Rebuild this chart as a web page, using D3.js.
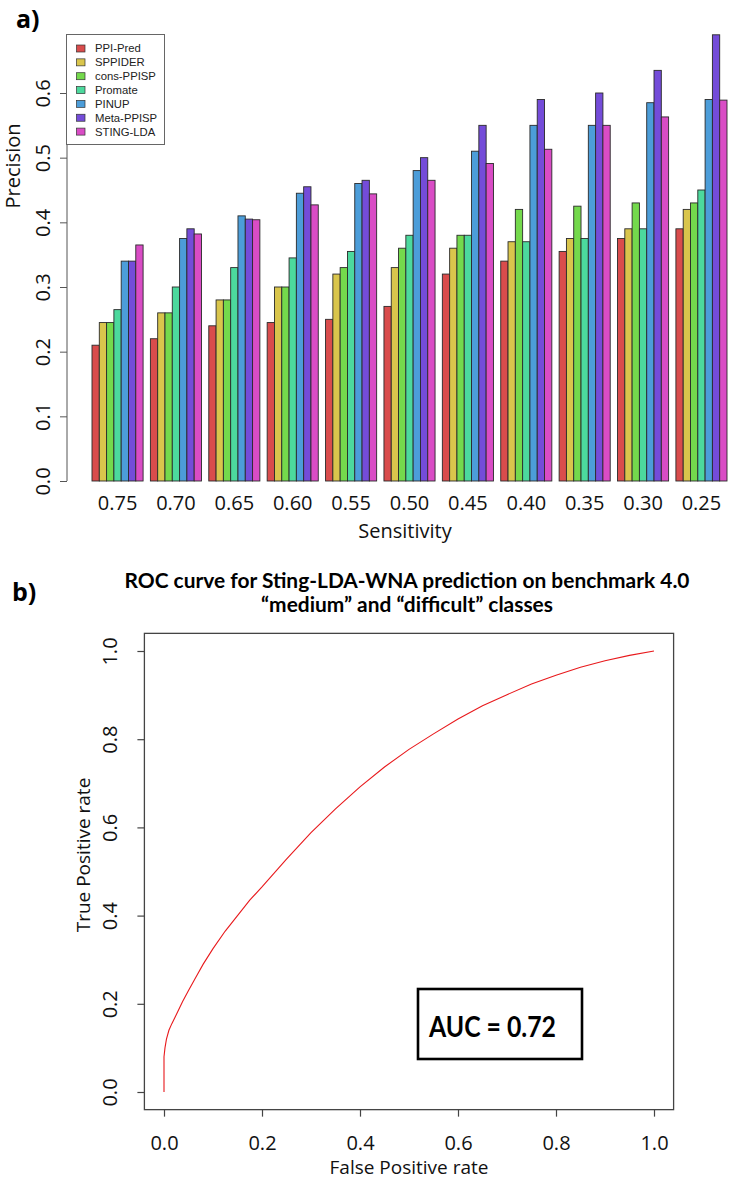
<!DOCTYPE html>
<html><head><meta charset="utf-8">
<script src="https://cdn.jsdelivr.net/npm/d3@7"></script>
<style>body{margin:0;background:#fff}svg{display:block}</style>
</head><body><svg id="c" width="734" height="1184"></svg>
<script>
// ---------- data: panel a ----------
const sensitivities = ["0.75","0.70","0.65","0.60","0.55","0.50","0.45","0.40","0.35","0.30","0.25"];
const methods = ["PPI-Pred","SPPIDER","cons-PPISP","Promate","PINUP","Meta-PPISP","STING-LDA"];
const ppiPred   = [0.210,0.220,0.240,0.245,0.250,0.270,0.320,0.340,0.355,0.375,0.390];
const sppider   = [0.245,0.260,0.280,0.300,0.320,0.330,0.360,0.370,0.375,0.390,0.420];
const consPpisp = [0.245,0.260,0.280,0.300,0.330,0.360,0.380,0.420,0.425,0.430,0.430];
const promate   = [0.265,0.300,0.330,0.345,0.355,0.380,0.380,0.370,0.375,0.390,0.450];
const pinup     = [0.340,0.375,0.410,0.445,0.460,0.480,0.510,0.550,0.550,0.585,0.590];
const metaPpisp = [0.340,0.390,0.405,0.455,0.465,0.500,0.550,0.590,0.600,0.635,0.690];
const stingLda  = [0.365,0.382,0.404,0.427,0.444,0.465,0.491,0.513,0.550,0.563,0.589];
const precisionTicks = [0.0,0.1,0.2,0.3,0.4,0.5,0.6];
const methodColors = ["#D94C4C","#D9C54C","#74D94C","#4CD99D","#4C9DD9","#744CD9","#D94CC5"];

// ---------- data: panel b ----------
const fpr = [0.000,0.000,0.002,0.005,0.010,0.016,0.025,0.038,0.050,0.065,0.080,0.100,0.125,0.150,0.175,0.200,0.250,0.300,0.350,0.400,0.450,0.500,0.550,0.600,0.650,0.700,0.750,0.800,0.850,0.900,0.950,1.000];
const tpr = [0.000,0.080,0.100,0.120,0.140,0.155,0.175,0.205,0.230,0.260,0.290,0.325,0.365,0.400,0.435,0.465,0.528,0.588,0.642,0.692,0.737,0.777,0.812,0.846,0.876,0.901,0.925,0.945,0.963,0.978,0.990,1.000];
const rateTicks = [0.0,0.2,0.4,0.6,0.8,1.0];
const titleLines = ["ROC curve for Sting-LDA-WNA prediction on benchmark 4.0","\u201Cmedium\u201D and \u201Cdifficult\u201D classes"];
const aucText = "AUC = 0.72";

const series = [ppiPred,sppider,consPpisp,promate,pinup,metaPpisp,stingLda];
const svg = d3.select("#c");
const fmt1 = d3.format(".1f");
const AX = "Open Sans, Noto Sans, sans-serif";

// =============== panel a ===============
const ga = svg.append("g");
const xg = d3.scaleBand().domain(sensitivities).range([92,727]).paddingInner(0.125).paddingOuter(0);
const xm = d3.scaleBand().domain(methods).range([0,xg.bandwidth()]);
const ya = d3.scaleLinear().domain([0,0.6]).range([481,93]);

ga.append("text").attr("x",16).attr("y",28).attr("font-family",AX).attr("font-weight","bold")
  .attr("font-size",25).text("a)");

sensitivities.forEach((s,gi)=>{
  const g = ga.append("g").attr("transform",`translate(${xg(s)},0)`);
  g.selectAll("rect").data(methods).join("rect")
    .attr("x",m=>xm(m)).attr("width",xm.bandwidth())
    .attr("y",(m,i)=>ya(series[i][gi])).attr("height",(m,i)=>ya(0)-ya(series[i][gi]))
    .attr("fill",(m,i)=>methodColors[i]).attr("stroke","#2a2a2a").attr("stroke-width",0.9);
});

// y axis
const yAxA = d3.axisLeft(ya).tickValues(precisionTicks).tickFormat(fmt1).tickSize(7).tickPadding(0);
const gy = ga.append("g").attr("transform","translate(67,0)").call(yAxA);
gy.select(".domain").attr("stroke","#555").attr("d","M0,"+ya(0)+"V"+ya(0.6));
gy.selectAll(".tick line").attr("stroke","#555");
gy.selectAll(".tick text").attr("font-family",AX).attr("font-size",20).attr("fill","#111")
  .attr("x",0).attr("y",0).attr("dy","0.35em").attr("text-anchor","middle")
  .attr("transform","translate(-24,0) rotate(-90)");

// x category labels
const xAxA = d3.axisBottom(xg).tickSize(0).tickPadding(0);
const gx = ga.append("g").attr("transform","translate(0,503)").call(xAxA);
gx.select(".domain").remove();
gx.selectAll(".tick text").attr("font-family",AX).attr("font-size",20).attr("fill","#111").attr("dy","0.35em").attr("y",0);

ga.append("text").attr("x",405).attr("y",531).attr("dy","0.35em").attr("text-anchor","middle")
  .attr("font-family",AX).attr("font-size",20).attr("fill","#111").text("Sensitivity");
ga.append("text").attr("transform","translate(13,166) rotate(-90)").attr("dy","0.35em").attr("text-anchor","middle")
  .attr("font-family",AX).attr("font-size",20).attr("fill","#111").text("Precision");

// legend
const lg = ga.append("g");
lg.append("rect").attr("x",66.5).attr("y",34.5).attr("width",98).attr("height",110)
  .attr("fill","#fff").attr("stroke","#666").attr("stroke-width",1);
methods.forEach((m,i)=>{
  const cy = 48.5 + i*13.85;
  lg.append("rect").attr("x",76.5).attr("y",cy-3.5).attr("width",8.5).attr("height",7)
    .attr("fill",methodColors[i]).attr("stroke","#333").attr("stroke-width",0.7);
  lg.append("text").attr("x",95).attr("y",cy).attr("dy","0.35em").attr("font-family","Liberation Sans, Arial, sans-serif")
    .attr("font-size",11.3).attr("fill","#222").text(m);
});

// =============== panel b ===============
const gb = svg.append("g");
const xr = d3.scaleLinear().domain([0,1]).range([164,654]);
const yr = d3.scaleLinear().domain([0,1]).range([1092,651]);

gb.append("text").attr("x",12).attr("y",601).attr("font-family",AX).attr("font-weight","bold")
  .attr("font-size",25).text("b)");

const t1 = gb.append("text").attr("x",407).attr("y",581).attr("dy","0.35em").attr("text-anchor","middle")
  .attr("font-family","Lato, sans-serif").attr("font-weight","bold").attr("font-size",20).text(titleLines[0]);
const t2 = gb.append("text").attr("x",407).attr("y",605).attr("dy","0.35em").attr("text-anchor","middle")
  .attr("font-family","Lato, sans-serif").attr("font-weight","bold").attr("font-size",20).text(titleLines[1]);
const r1 = 565 / t1.node().getComputedTextLength();
t1.attr("textLength",565).attr("lengthAdjust","spacingAndGlyphs");
t2.attr("textLength",t2.node().getComputedTextLength()*r1).attr("lengthAdjust","spacingAndGlyphs");

// frame
gb.append("rect").attr("x",xr(-0.04)).attr("y",yr(1.04)).attr("width",xr(1.04)-xr(-0.04))
  .attr("height",yr(-0.04)-yr(1.04)).attr("fill","none").attr("stroke","#444").attr("stroke-width",1.3);

const xAxB = d3.axisBottom(xr).tickValues(rateTicks).tickFormat(fmt1).tickSize(7).tickPadding(0);
const gxb = gb.append("g").attr("transform",`translate(0,${yr(-0.04)})`).call(xAxB);
gxb.select(".domain").remove();
gxb.selectAll(".tick line").attr("stroke","#444").attr("stroke-width",1.2);
gxb.selectAll(".tick text").attr("font-family",AX).attr("font-size",20).attr("fill","#111").attr("y",33).attr("dy","0.35em");

const yAxB = d3.axisLeft(yr).tickValues(rateTicks).tickFormat(fmt1).tickSize(7).tickPadding(0);
const gyb = gb.append("g").attr("transform",`translate(${xr(-0.04)},0)`).call(yAxB);
gyb.select(".domain").remove();
gyb.selectAll(".tick line").attr("stroke","#444").attr("stroke-width",1.2);
gyb.selectAll(".tick text").attr("font-family",AX).attr("font-size",20).attr("fill","#111")
  .attr("x",0).attr("y",0).attr("dy","0.35em").attr("text-anchor","middle")
  .attr("transform","translate(-34,0) rotate(-90)");

gb.append("text").attr("x",409).attr("y",1167).attr("dy","0.35em").attr("text-anchor","middle")
  .attr("font-family",AX).attr("font-size",19).attr("fill","#111").text("False Positive rate");
gb.append("text").attr("transform","translate(83,855) rotate(-90)").attr("dy","0.35em").attr("text-anchor","middle")
  .attr("font-family",AX).attr("font-size",19).attr("fill","#111").text("True Positive rate");

const line = d3.line().x((d,i)=>xr(fpr[i])).y((d,i)=>yr(tpr[i])).curve(d3.curveLinear);
gb.append("path").attr("d",line(fpr)).attr("fill","none").attr("stroke","#e8191c").attr("stroke-width",1.1);

// AUC box
gb.append("rect").attr("x",418).attr("y",989).attr("width",164).attr("height",70)
  .attr("fill","#fff").attr("stroke","#000").attr("stroke-width",2.6);
gb.append("text").attr("x",429).attr("y",1027).attr("dy","0.35em")
  .attr("font-family","Lato, sans-serif").attr("font-weight","bold").attr("font-size",28)
  .attr("textLength",127).attr("lengthAdjust","spacingAndGlyphs").attr("fill","#000").text(aucText);
</script></body></html>
